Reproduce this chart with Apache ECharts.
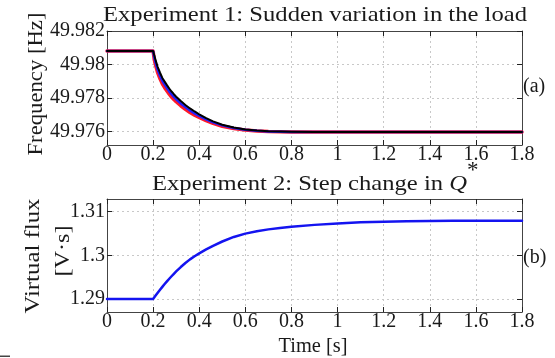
<!DOCTYPE html>
<html><head><meta charset="utf-8">
<script src="https://cdn.jsdelivr.net/npm/echarts@6/dist/echarts.min.js"></script>
<style>html,body{margin:0;padding:0;background:#fff}#c{width:555px;height:358px}</style>
</head><body><div id="c"></div>
<script>
// ---- data ----
const timeA = [0, 0.2, 0.205, 0.21, 0.215, 0.22, 0.23, 0.24, 0.25, 0.26, 0.27, 0.28, 0.29, 0.3, 0.32, 0.34, 0.36, 0.38, 0.4, 0.43, 0.46, 0.5, 0.55, 0.6, 0.65, 0.7, 0.8, 0.9, 1.0, 1.2, 1.4, 1.6, 1.8];
const freqRed   = [49.9808, 49.9808, 49.9803, 49.98, 49.97975, 49.9795, 49.97915, 49.97885, 49.97862, 49.97842, 49.97823, 49.97806, 49.97791, 49.97778, 49.97754, 49.97733, 49.97714, 49.97698, 49.97684, 49.97665, 49.97649, 49.97632, 49.97618, 49.97609, 49.97603, 49.976, 49.97598, 49.97597, 49.97597, 49.97597, 49.97597, 49.97597, 49.97597];
const freqBlue  = [49.9808, 49.9808, 49.98042, 49.98015, 49.97991, 49.97968, 49.97933, 49.97903, 49.9788, 49.9786, 49.9784, 49.97823, 49.97807, 49.97793, 49.97768, 49.97746, 49.97726, 49.97709, 49.97694, 49.97673, 49.97655, 49.97637, 49.97621, 49.97611, 49.97605, 49.97601, 49.97598, 49.97597, 49.97597, 49.97597, 49.97597, 49.97597, 49.97597];
const freqBlack = [49.9808, 49.9808, 49.98055, 49.9803, 49.98007, 49.97985, 49.97951, 49.9792, 49.97898, 49.97877, 49.97857, 49.97839, 49.97823, 49.97808, 49.97782, 49.97759, 49.97738, 49.9772, 49.97703, 49.9768, 49.97661, 49.97641, 49.97624, 49.97613, 49.97606, 49.97602, 49.97599, 49.97598, 49.97597, 49.97597, 49.97597, 49.97597, 49.97597];
const timeB = [0, 0.2, 0.21, 0.22, 0.23, 0.24, 0.25, 0.26, 0.27, 0.28, 0.29, 0.3, 0.32, 0.34, 0.36, 0.38, 0.4, 0.43, 0.46, 0.5, 0.55, 0.6, 0.65, 0.7, 0.75, 0.8, 0.9, 1.0, 1.1, 1.2, 1.3, 1.4, 1.5, 1.6, 1.8];
const flux = [1.29, 1.29, 1.29072, 1.29142, 1.2921, 1.29276, 1.2934, 1.29402, 1.29462, 1.2952, 1.29576, 1.2963, 1.2973, 1.29822, 1.29906, 1.29979, 1.30045, 1.30135, 1.30218, 1.30316, 1.3042, 1.30497, 1.30553, 1.30594, 1.30627, 1.30652, 1.30697, 1.30731, 1.30755, 1.30771, 1.30781, 1.30786, 1.30789, 1.30791, 1.30793];
const xTicks = [0, 0.2, 0.4, 0.6, 0.8, 1, 1.2, 1.4, 1.6, 1.8];
const freqTicks = [49.976, 49.978, 49.98, 49.982];
const fluxTicks = [1.29, 1.3, 1.31];
const title1 = 'Experiment 1: Sudden variation in the load';
const title2Pre = 'Experiment 2: Step change in ';
const title2Sym = 'Q';
const title2Sup = '*';
const yName1 = 'Frequency [Hz]';
const yName2a = 'Virtual flux';
const yName2b = '[V·s]';
const xName = 'Time [s]';

const SERIF = 'Liberation Serif';
const FONT = "'Liberation Serif', serif";
const TXT = '#1a1a1a';
const AX = '#444';
const pairs = (xs, ys) => xs.map((x, i) => [x, ys[i]]);

// text width measurement to stretch the serif text to the reference's (wider) TeX font
const mctx = document.createElement('canvas').getContext('2d');
function tw(text, font) { mctx.font = font; return mctx.measureText(text).width; }
const F22 = '22px ' + FONT, F22I = 'italic 22px ' + FONT, F20 = '20px ' + FONT;
const sT1 = 424 / tw(title1, F22);
const t2w = tw(title2Pre, F22) + tw(title2Sym, F22I);
const sT2 = 315 / t2w;
const sY1 = 143 / tw(yName1, F22);
const sY2a = 115 / tw(yName2a, F22);
const sY2b = 51 / tw(yName2b, F22);
const sX = 69 / tw(xName, F20);

function xAx(grid, pos, labels) {
  return {
    type: 'value', gridIndex: grid, position: pos, min: 0, max: 1.8, interval: 0.2,
    axisLine: {show: true, onZero: false, lineStyle: {color: AX, width: 1}},
    axisTick: {show: true, inside: true, length: 5, lineStyle: {color: '#222', width: 1}},
    axisLabel: {show: labels, margin: 0, fontFamily: SERIF, fontSize: 20, color: TXT,
      formatter: v => String(Math.round(v * 10) / 10)},
    splitLine: {show: labels, lineStyle: {color: '#c8c8c8', type: [2, 3], width: 1}}
  };
}
function yAx(grid, pos, labels, mn, mx, ticks) {
  return {
    type: 'value', gridIndex: grid, position: pos, min: mn, max: mx,
    axisLine: {show: true, onZero: false, lineStyle: {color: AX, width: 1}},
    axisTick: {show: true, inside: true, length: 5, customValues: ticks, lineStyle: {color: '#222', width: 1}},
    axisLabel: {show: labels, margin: 2, fontFamily: SERIF, fontSize: 20, color: TXT, customValues: ticks,
      formatter: v => String(v)},
    splitLine: {show: labels, lineStyle: {color: '#c8c8c8', type: [2, 3], width: 1}}
  };
}
function line(xi, yi, xs, ys, color, w, z) {
  return {type: 'line', xAxisIndex: xi, yAxisIndex: yi, data: pairs(xs, ys), showSymbol: false, smooth: false,
    lineStyle: {color: color, width: w, join: 'round', cap: 'round'}, z: z};
}

const chart = echarts.init(document.getElementById('c'), null, {renderer: 'canvas'});
chart.setOption({
  animation: false,
  backgroundColor: '#fff',
  grid: [
    {left: 107, top: 31, width: 415, height: 114},
    {left: 107, top: 199, width: 415, height: 113}
  ],
  xAxis: [xAx(0, 'bottom', true), xAx(0, 'top', false), xAx(1, 'bottom', true), xAx(1, 'top', false)],
  yAxis: [
    yAx(0, 'left', true, 49.9752, 49.982, freqTicks), yAx(0, 'right', false, 49.9752, 49.982, freqTicks),
    yAx(1, 'left', true, 1.287, 1.3129, fluxTicks), yAx(1, 'right', false, 1.287, 1.3129, fluxTicks)
  ],
  series: [
    line(0, 0, timeA, freqRed, '#ff1a2a', 3.5, 2),
    line(0, 0, timeA, freqBlue, '#2020ff', 2.5, 3),
    line(0, 0, timeA, freqBlack, '#000', 2, 4),
    line(2, 2, timeB, flux, '#1414f0', 2.5, 3)
  ],
  graphic: [
    {type: 'text', x: 315, y: 26.5, scaleX: sT1, style: {text: title1, font: F22, fill: TXT, textAlign: 'center', textVerticalAlign: 'bottom'}},
    {type: 'text', x: 152, y: 195, scaleX: sT2, style: {text: '{a|' + title2Pre + '}{q|' + title2Sym + '}', textAlign: 'left', textVerticalAlign: 'bottom', fill: TXT,
      rich: {a: {font: F22, fill: TXT}, q: {font: F22I, fill: TXT}}}},
    {type: 'text', x: 467, y: 159, style: {text: title2Sup, font: '23px ' + FONT, fill: TXT, textAlign: 'left', textVerticalAlign: 'top'}},
    {type: 'text', x: 36, y: 84, rotation: Math.PI / 2, scaleX: sY1, style: {text: yName1, font: F22, fill: TXT, textAlign: 'center', textVerticalAlign: 'middle'}},
    {type: 'text', x: 33, y: 256, rotation: Math.PI / 2, scaleX: sY2a, style: {text: yName2a, font: F22, fill: TXT, textAlign: 'center', textVerticalAlign: 'middle'}},
    {type: 'text', x: 63, y: 251, rotation: Math.PI / 2, scaleX: sY2b, style: {text: yName2b, font: F22, fill: TXT, textAlign: 'center', textVerticalAlign: 'middle'}},
    {type: 'text', x: 313, y: 347, scaleX: sX, style: {text: xName, font: F20, fill: TXT, textAlign: 'center', textVerticalAlign: 'middle'}},
    {type: 'text', x: 523, y: 87, style: {text: '(a)', font: F20, fill: TXT, textAlign: 'left', textVerticalAlign: 'middle'}},
    {type: 'text', x: 523, y: 258, style: {text: '(b)', font: F20, fill: TXT, textAlign: 'left', textVerticalAlign: 'middle'}},
    {type: 'rect', shape: {x: 0, y: 355.5, width: 10, height: 1.5}, style: {fill: '#444'}}
  ]
});
</script>
</body></html>
